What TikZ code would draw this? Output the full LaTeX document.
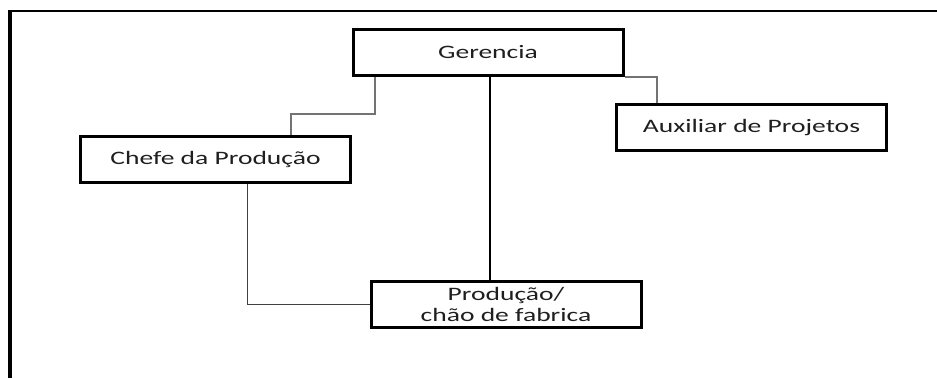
\documentclass[tikz,border=0pt]{standalone}
\usepackage{fontspec}
\newfontfamily\boxfont[FakeStretch=1.45]{Carlito}
\begin{document}
\begin{tikzpicture}[x=1pt,y=-1pt,
  orgbox/.style={draw=black,line width=3pt,minimum width=270pt,minimum height=46pt,inner sep=0pt,align=center,font=\boxfont\fontsize{19}{22}\selectfont,text=black!88},
  connG/.style={draw=black!55,line width=1.5pt},
  connB/.style={draw=black,line width=1.5pt},
  connD/.style={draw=black!75,line width=1.5pt}]
\useasboundingbox (0,0) rectangle (937,378);
\fill[white] (0,0) rectangle (937,378);
% frame
\draw[line width=2pt] (10,11) -- (937,11);
\draw[line width=3.5pt] (10,10) -- (10,378);
% nodes
\node[orgbox] (ger) at (488,52.5) {Gerencia};
\node[orgbox] (chefe) at (215.5,159.5) {Chefe da Produção};
\node[orgbox] (aux) at (751.5,127.5) {Auxiliar de Projetos};
\node[orgbox] (prod) at (506,304.5) {Produção/\\[-1pt]chão de fabrica};
% connectors
\draw[connG] (ger.south -| 375,0) -- (375,114) -| (chefe.north -| 291,0);
\draw[connG] (ger.south east) -| (aux.north -| 657,0);
\draw[connB] (ger.south -| 490,0) -- (prod.north -| 490,0);
\draw[connD] (chefe.south -| 247.5,0) |- (prod.west);
\end{tikzpicture}
\end{document}
